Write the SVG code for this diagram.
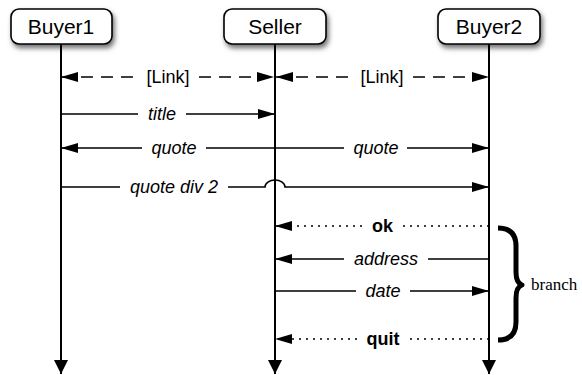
<svg xmlns="http://www.w3.org/2000/svg" width="582" height="375" viewBox="0 0 582 375">
  <defs>
    <filter id="shadow" x="-20%" y="-30%" width="140%" height="180%">
      <feDropShadow dx="2" dy="3.5" stdDeviation="2.5" flood-color="#000" flood-opacity="0.55"/>
    </filter>
    <marker id="head" markerUnits="userSpaceOnUse" markerWidth="18" markerHeight="11" viewBox="0 0 18 11" refX="17" refY="5.5" orient="auto-start-reverse">
      <path d="M0,0.5 L17,5.5 L0,10.5 z" fill="#000"/>
    </marker>
    <marker id="lifehead" markerUnits="userSpaceOnUse" markerWidth="14" markerHeight="14" viewBox="0 0 14 14" refX="7" refY="14" orient="0">
      <path d="M0,0 L14,0 L7,14 z" fill="#000"/>
    </marker>
    <style>
      .box { fill: #fff; stroke: #000; stroke-width: 1.6; filter: url(#shadow); }
      .name { font-family: "Liberation Sans", Arial, sans-serif; font-size: 21px; text-anchor: middle; fill: #000; }
      .life { stroke: #000; stroke-width: 2; fill: none; marker-end: url(#lifehead); }
      .msg { stroke: #000; stroke-width: 1.6; fill: none; }
      .dash { stroke-dasharray: 12 8; }
      .dot { stroke-dasharray: 2 5; }
      .lbl { font-family: "Liberation Sans", Arial, sans-serif; font-size: 18px; text-anchor: middle; fill: #000; }
      .it { font-style: italic; }
      .bd { font-weight: bold; }
      .brace { stroke: #000; stroke-width: 5; fill: none; stroke-linecap: butt; stroke-linejoin: round; }
      .note { font-family: "Liberation Serif", "Times New Roman", serif; font-size: 17px; fill: #000; }
    </style>
  </defs>

  <!-- lifelines -->
  <g id="lifelines">
    <path class="life" d="M61,44 L61,374"/>
    <path class="life" d="M275,44 L275,374"/>
    <path class="life" d="M489,44 L489,374"/>
  </g>

  <g id="buyer1">
    <rect class="box" x="11" y="9" width="101" height="35" rx="8"/>
    <text class="name" x="61" y="34">Buyer1</text>
  </g>
  <g id="seller">
    <rect class="box" x="224" y="9" width="102" height="35" rx="8"/>
    <text class="name" x="275" y="34">Seller</text>
  </g>
  <g id="buyer2">
    <rect class="box" x="438" y="9" width="102" height="35" rx="8"/>
    <text class="name" x="489" y="34">Buyer2</text>
  </g>

  <!-- messages -->
  <g id="connectors">
    <path class="msg dash" marker-start="url(#head)" marker-end="url(#head)" d="M61,77 L137,77 M199,77 L274,77"/>
    <path class="msg dash" marker-start="url(#head)" marker-end="url(#head)" d="M276,77 L351,77 M413,77 L489,77"/>
    <path class="msg" marker-end="url(#head)" d="M61,114 L138,114 M186,114 L275,114"/>
    <path class="msg" marker-start="url(#head)" marker-end="url(#head)" d="M61,148 L142,148 M206,148 L344,148 M407,148 L489,148"/>
    <path class="msg" marker-end="url(#head)" d="M61,187 L120,187 M228,187 L265,187 A10,7 0 0 1 285,187 L489,187"/>
    <path class="msg dot" marker-end="url(#head)" d="M489,226 L403,226 M362,226 L275,226"/>
    <path class="msg" marker-end="url(#head)" d="M489,259 L428,259 M344,259 L275,259"/>
    <path class="msg" marker-end="url(#head)" d="M275,291 L356,291 M410,291 L489,291"/>
    <path class="msg dot" marker-end="url(#head)" d="M489,339 L410,339 M357,339 L275,339"/>
  </g>

  <g id="labels">
    <text class="lbl" x="168" y="83">[Link]</text>
    <text class="lbl" x="382" y="83">[Link]</text>
    <text class="lbl it" x="162" y="120">title</text>
    <text class="lbl it" x="174" y="154">quote</text>
    <text class="lbl it" x="376" y="154">quote</text>
    <text class="lbl it" x="174" y="193">quote div 2</text>
    <text class="lbl bd" x="382.5" y="232">ok</text>
    <text class="lbl it" x="386" y="265">address</text>
    <text class="lbl it" x="383" y="297">date</text>
    <text class="lbl bd" x="383" y="345">quit</text>
  </g>

  <!-- branch brace -->
  <g id="branch">
    <path class="brace" d="M498,228 Q516,228 516,246 L516,272 Q516,283 522,285 Q516,287 516,298 L516,322 Q516,340 498,340"/>
    <text class="note" x="531" y="290">branch</text>
  </g>
</svg>
